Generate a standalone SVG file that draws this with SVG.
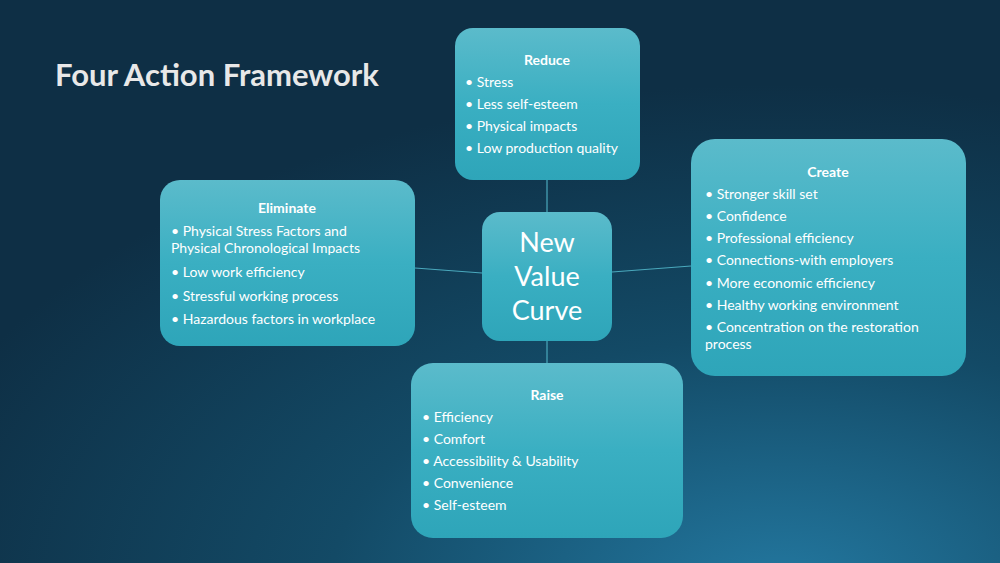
<svg xmlns="http://www.w3.org/2000/svg" width="1000" height="563" viewBox="0 0 1000 563">
<defs>
<radialGradient id="bg" cx="0.78" cy="1.05" r="0.9">
<stop offset="0" stop-color="#2378a0"/>
<stop offset="0.5" stop-color="#134a66"/>
<stop offset="1" stop-color="#0e2f45"/>
</radialGradient>
<linearGradient id="box" x1="0" y1="0" x2="0" y2="1">
<stop offset="0" stop-color="#5bbbcb"/>
<stop offset="0.5" stop-color="#3aafc2"/>
<stop offset="1" stop-color="#2ea5b9"/>
</linearGradient>
<style>
.b{fill:url(#box)}
.t{font-family:Lato,"Noto Sans",sans-serif;fill:#fff;font-size:14px}
.h{font-weight:bold;text-anchor:middle}
.c{stroke:#4aa9bd;stroke-width:1.2;fill:none}
</style>
</defs>
<rect width="1000" height="563" fill="url(#bg)"/>
<text x="55" y="86" font-family="Lato,'Noto Sans',sans-serif" font-weight="bold" font-size="31" fill="#e8e8e8">Four Action Framework</text>
<g id="connectors">
<line class="c" x1="547" y1="180" x2="547" y2="212"/>
<line class="c" x1="482" y1="273" x2="415" y2="268"/>
<line class="c" x1="612" y1="272" x2="691" y2="266"/>
<line class="c" x1="547" y1="341" x2="547" y2="363"/>
</g>
<g id="center">
<rect class="b" x="482" y="212" width="130" height="129" rx="18"/>
<text class="t" text-anchor="middle" font-size="27" x="547"><tspan x="547" y="252" style="font-size:27px">New</tspan><tspan x="547" y="286" style="font-size:27px">Value</tspan><tspan x="547" y="320" style="font-size:27px">Curve</tspan></text>
</g>
<g id="reduce">
<rect class="b" x="455" y="28" width="185" height="152" rx="18"/>
<text class="t h" x="547" y="65">Reduce</text>
<text class="t" x="465" y="87">• Stress</text>
<text class="t" x="465" y="109">• Less self-esteem</text>
<text class="t" x="465" y="131">• Physical impacts</text>
<text class="t" x="465" y="153">• Low production quality</text>
</g>
<g id="create">
<rect class="b" x="691" y="139" width="275" height="237" rx="24"/>
<text class="t h" x="828" y="177">Create</text>
<text class="t" x="705" y="199">• Stronger skill set</text>
<text class="t" x="705" y="221">• Confidence</text>
<text class="t" x="705" y="243">• Professional efficiency</text>
<text class="t" x="705" y="265">• Connections-with employers</text>
<text class="t" x="705" y="288">• More economic efficiency</text>
<text class="t" x="705" y="310">• Healthy working environment</text>
<text class="t" x="705" y="332">• Concentration on the restoration</text>
<text class="t" x="705" y="349">process</text>
</g>
<g id="eliminate">
<rect class="b" x="160" y="180" width="255" height="166" rx="20"/>
<text class="t h" x="287" y="213">Eliminate</text>
<text class="t" x="171" y="236">• Physical Stress Factors and</text>
<text class="t" x="171" y="253">Physical Chronological Impacts</text>
<text class="t" x="171" y="277">• Low work efficiency</text>
<text class="t" x="171" y="301">• Stressful working process</text>
<text class="t" x="171" y="324">• Hazardous factors in workplace</text>
</g>
<g id="raise">
<rect class="b" x="411" y="363" width="272" height="175" rx="22"/>
<text class="t h" x="547" y="400">Raise</text>
<text class="t" x="422" y="422">• Efficiency</text>
<text class="t" x="422" y="444">• Comfort</text>
<text class="t" x="422" y="466">• Accessibility &amp; Usability</text>
<text class="t" x="422" y="488">• Convenience</text>
<text class="t" x="422" y="510">• Self-esteem</text>
</g>
</svg>
